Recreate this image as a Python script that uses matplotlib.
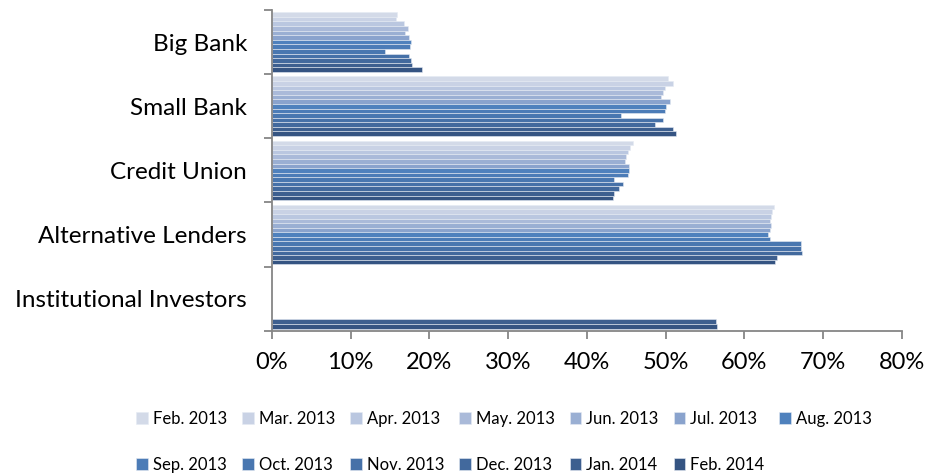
import numpy as np
import matplotlib
matplotlib.use("Agg")
import matplotlib.pyplot as plt
from matplotlib.ticker import FuncFormatter, MultipleLocator, FixedLocator

plt.rcParams['font.family'] = ['Lato', 'DejaVu Sans']

# lender types, top to bottom
categories = ["Big Bank", "Small Bank", "Credit Union",
              "Alternative Lenders", "Institutional Investors"]

months = ["Feb. 2013", "Mar. 2013", "Apr. 2013", "May. 2013", "Jun. 2013",
          "Jul. 2013", "Aug. 2013", "Sep. 2013", "Oct. 2013", "Nov. 2013",
          "Dec. 2013", "Jan. 2014", "Feb. 2014"]

# approval rate (%) per month, one list per lender type
big_bank = [15.9, 15.7, 16.8, 17.3, 16.9, 17.4, 17.6, 17.5, 14.3, 17.4, 17.6, 17.8, 19.1]
small_bank = [50.3, 50.9, 49.9, 49.6, 49.4, 50.6, 50.1, 49.9, 44.3, 49.7, 48.7, 50.9, 51.3]
credit_union = [45.8, 45.5, 45.2, 45.0, 44.9, 45.3, 45.4, 45.2, 43.4, 44.6, 44.1, 43.5, 43.3]
alt_lenders = [63.7, 63.5, 63.4, 63.3, 63.4, 63.2, 63.0, 63.2, 67.2, 67.2, 67.3, 64.1, 63.9]
inst_investors = [np.nan] * 11 + [56.4, 56.5]

colors = ["#D3DAE8", "#C9D2E5", "#BAC7E0", "#AABAD9", "#9AAFD3", "#8AA3CD",
          "#4F81BD", "#4C7CB7", "#4977B0", "#4671A8", "#42699D", "#3D5F8F",
          "#355482"]

data = np.array([big_bank, small_bank, credit_union, alt_lenders, inst_investors])

fig = plt.figure(figsize=(9.25, 4.74), dpi=100)
ax = fig.add_axes([0.294, 0.302, 0.681, 0.677])

n = len(months)
group = 0.93
h = group / n
y = np.arange(len(categories))
handles = []
for i, m in enumerate(months):
    pos = y - group / 2 + h * (i + 0.5)
    b = ax.barh(pos, data[:, i], height=h, color=colors[i],
                edgecolor="#E6EBF3", linewidth=0.4, label=m)
    handles.append(b)

ax.set_ylim(len(categories) - 0.5, -0.5)
ax.set_xlim(0, 80)
ax.xaxis.set_major_locator(MultipleLocator(10))
ax.xaxis.set_major_formatter(FuncFormatter(lambda v, p: f"{v:.0f}%"))

# category labels at centres, tick marks at group boundaries
ax.yaxis.set_major_locator(FixedLocator(np.arange(-0.5, len(categories), 1)))
ax.yaxis.set_minor_locator(FixedLocator(y))
ax.set_yticklabels([])
ax.set_yticklabels(categories, minor=True)
ax.tick_params(axis="y", which="minor", length=0, labelsize=17.5, pad=18)
ax.tick_params(axis="y", which="major", length=6, width=1.3, color="#868686")
ax.tick_params(axis="x", length=6, width=1.3, color="#868686", labelsize=17, pad=9)

for s in ["top", "right"]:
    ax.spines[s].set_visible(False)
for s in ["left", "bottom"]:
    ax.spines[s].set_color("#868686")
    ax.spines[s].set_linewidth(1.3)

# legend row by row: reorder for column-major fill
order = []
for k in range(6):
    order += [k, k + 7]
order.append(6)
fig.legend([handles[k] for k in order], [months[k] for k in order],
           loc="center", bbox_to_anchor=(0.545, 0.068), ncol=7, frameon=False,
           fontsize=12, handlelength=0.7, handleheight=0.7, handletextpad=0.3,
           columnspacing=0.9, labelspacing=1.8)

fig.savefig("out.png", dpi=100)
